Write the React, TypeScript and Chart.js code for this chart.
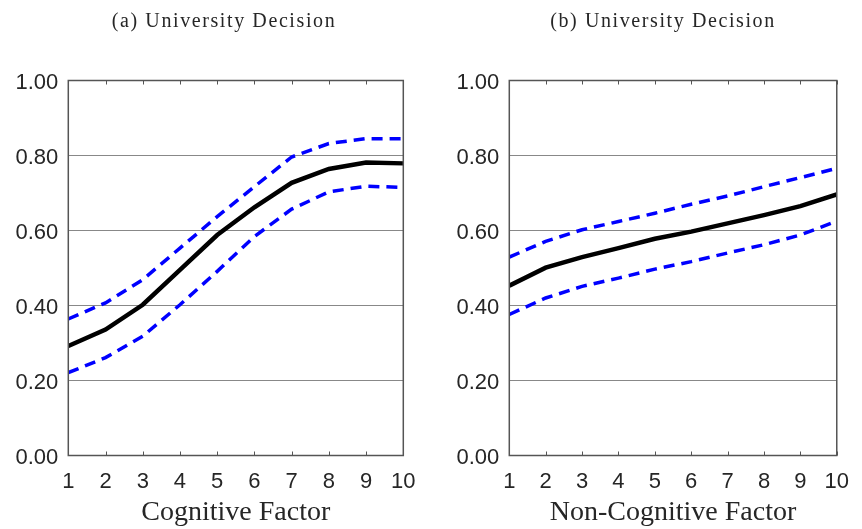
import React, { useEffect, useRef } from "react";
import { Chart, registerables } from "chart.js";

Chart.register(...registerables);

const xCategories = [1, 2, 3, 4, 5, 6, 7, 8, 9, 10];
const yTicks = [0, 0.2, 0.4, 0.6, 0.8, 1.0];

// Panel (a): Cognitive Factor
const cogEstimate = [0.292, 0.336, 0.402, 0.495, 0.588, 0.662, 0.727, 0.764, 0.781, 0.779];
const cogUpper = [0.364, 0.407, 0.469, 0.553, 0.637, 0.717, 0.796, 0.832, 0.845, 0.845];
const cogLower = [0.221, 0.261, 0.318, 0.402, 0.491, 0.584, 0.657, 0.703, 0.718, 0.715];

// Panel (b): Non-Cognitive Factor
const nonCogEstimate = [0.453, 0.501, 0.529, 0.553, 0.578, 0.597, 0.619, 0.641, 0.665, 0.696];
const nonCogUpper = [0.529, 0.571, 0.602, 0.624, 0.646, 0.670, 0.692, 0.717, 0.741, 0.766];
const nonCogLower = [0.376, 0.420, 0.451, 0.473, 0.497, 0.517, 0.540, 0.562, 0.588, 0.625];

const titles = ["(a) University Decision", "(b) University Decision"];
const xLabels = ["Cognitive Factor", "Non-Cognitive Factor"];

const AXIS_COLOR = "#555555";
const GRID_COLOR = "#888888";
const TEXT_COLOR = "#262626";

const panelPlugin = {
  id: "panelDecor",
  afterDraw(chart: any, _args: any, opts: any) {
    const { ctx, chartArea } = chart;
    const xs = chart.scales.x;
    ctx.save();
    // inward tick marks on top and bottom
    ctx.strokeStyle = AXIS_COLOR;
    ctx.lineWidth = 1;
    ctx.beginPath();
    for (const v of xCategories) {
      const px = Math.round(xs.getPixelForValue(v)) + 0.5;
      ctx.moveTo(px, chartArea.top);
      ctx.lineTo(px, chartArea.top + 4);
      ctx.moveTo(px, chartArea.bottom);
      ctx.lineTo(px, chartArea.bottom - 4);
    }
    ctx.stroke();
    // box
    ctx.lineWidth = 1.5;
    ctx.strokeRect(chartArea.left, chartArea.top, chartArea.right - chartArea.left, chartArea.bottom - chartArea.top);
    // title
    ctx.fillStyle = TEXT_COLOR;
    ctx.font = "20px 'Liberation Serif'";
    try { (ctx as any).letterSpacing = "1.6px"; } catch (e) {}
    ctx.textAlign = "center";
    ctx.textBaseline = "alphabetic";
    ctx.fillText(opts.text, opts.x, 27);
    ctx.restore();
  },
};

function makeConfig(est: number[], up: number[], lo: number[], title: string, xLabel: string, yWidth: number, rightPad: number, titleX: number) {
  const pts = (arr: number[]) => arr.map((v, i) => ({ x: xCategories[i], y: v }));
  return {
    type: "line",
    data: {
      datasets: [
        { data: pts(up), borderColor: "#0000ff", borderWidth: 3.5, borderDash: [11, 7], pointRadius: 0, tension: 0, fill: false },
        { data: pts(lo), borderColor: "#0000ff", borderWidth: 3.5, borderDash: [11, 7], pointRadius: 0, tension: 0, fill: false },
        { data: pts(est), borderColor: "#000000", borderWidth: 4.5, pointRadius: 0, tension: 0, fill: false },
      ],
    },
    options: {
      animation: false,
      responsive: false,
      devicePixelRatio: 1,
      layout: { padding: { left: 0, right: rightPad, top: 80.5, bottom: 0 } },
      plugins: {
        legend: { display: false },
        tooltip: { enabled: false },
        panelDecor: { text: title, x: titleX },
      },
      scales: {
        x: {
          type: "linear",
          min: 1,
          max: 10,
          afterBuildTicks: (s: any) => { s.ticks = xCategories.map((v) => ({ value: v })); },
          ticks: { color: TEXT_COLOR, font: { family: "'Liberation Sans'", size: 22 }, padding: 13, maxRotation: 0, autoSkip: false, callback: (v: any) => String(v) },
          grid: { display: false, drawTicks: false },
          border: { display: false },
          title: { display: true, text: xLabel, color: TEXT_COLOR, font: { family: "'Liberation Serif'", size: 28, lineHeight: 1 }, padding: { top: 0, bottom: 2 } },
          afterFit: (s: any) => { s.height = 73.5; },
        },
        y: {
          min: 0,
          max: 1,
          afterBuildTicks: (s: any) => { s.ticks = yTicks.map((v) => ({ value: v })); },
          ticks: { color: TEXT_COLOR, font: { family: "'Liberation Sans'", size: 22 }, padding: 10, labelOffset: 2, callback: (v: any) => Number(v).toFixed(2) },
          grid: { color: GRID_COLOR, lineWidth: 1, drawTicks: false },
          border: { display: false },
          afterFit: (s: any) => { s.width = yWidth; },
        },
      },
    },
    plugins: [panelPlugin],
  } as any;
}

function Panel(props: { cfg: any; left: number }) {
  const ref = useRef<HTMLCanvasElement>(null);
  useEffect(() => {
    const chart = new Chart(ref.current as HTMLCanvasElement, props.cfg);
    return () => chart.destroy();
  }, []);
  return <canvas ref={ref} width={431} height={529} style={{ position: "absolute", left: props.left, top: 0, width: 431, height: 529 }} />;
}

export default function App() {
  const cfgA = makeConfig(cogEstimate, cogUpper, cogLower, titles[0], xLabels[0], 68.3, 27.7, 224);
  const cfgB = makeConfig(nonCogEstimate, nonCogUpper, nonCogLower, titles[1], xLabels[1], 78.3, 17.7, 232);
  return (
    <div style={{ position: "fixed", left: 0, top: 0, width: 862, height: 529, background: "#ffffff" }}>
      <Panel cfg={cfgA} left={0} />
      <Panel cfg={cfgB} left={431} />
    </div>
  );
}
